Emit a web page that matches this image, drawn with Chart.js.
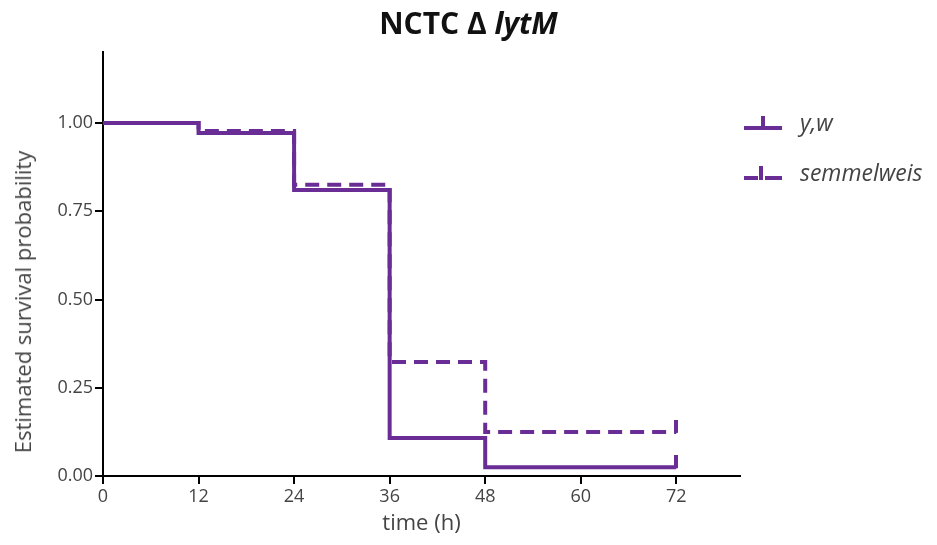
<!DOCTYPE html>
<html>
<head>
<meta charset="utf-8">
<script src="https://cdn.jsdelivr.net/npm/chart.js@4/dist/chart.umd.min.js"></script>
<style>
  html, body { margin: 0; padding: 0; background: #fff; }
  #wrap { position: relative; width: 937px; height: 545px; font-family: "Open Sans", sans-serif; }
  #titulo { position: absolute; left: 0; width: 937px; top: 2px; text-align: center;
            font-size: 30px; font-weight: bold; color: #111; }
  #ytitulo { position: absolute; left: 22px; top: 302px; transform: translate(-50%, -50%) rotate(-90deg);
             white-space: nowrap; font-size: 22px; color: #444; }
  .leg { position: absolute; left: 744px; display: flex; align-items: center;
         font-size: 23px; font-style: italic; color: #444; }
  .leg svg { margin-right: 18px; }
</style>
</head>
<body>
<div id="wrap">
  <canvas id="grafico" width="937" height="545"></canvas>
  <div id="titulo">NCTC Δ <i>lytM</i></div>
  <div id="ytitulo">Estimated survival probability</div>
  <div class="leg" style="top:106px">
    <svg width="38" height="20"><rect x="0" y="14" width="38" height="4" fill="#6a2d96"/><rect x="17" y="4" width="4" height="12" fill="#6a2d96"/></svg>y,w
  </div>
  <div class="leg" style="top:156px">
    <svg width="38" height="20"><rect x="0" y="14" width="14" height="4" fill="#6a2d96"/><rect x="21" y="14" width="17" height="4" fill="#6a2d96"/><rect x="15" y="4" width="4" height="14" fill="#6a2d96"/></svg>semmelweis
  </div>
</div>
<script>
/* ---- Datos ---- */
const horas      = [0, 12, 24, 36, 48, 72];
const serieYW    = [1.00, 0.972, 0.81, 0.108, 0.025, 0.025];
const serieSemm  = [1.00, 0.977, 0.825, 0.323, 0.125, 0.125];
const ticksX     = [0, 12, 24, 36, 48, 60, 72];
const ticksY     = [0, 0.25, 0.5, 0.75, 1.0];

const MORADO = "#6a2d96";

// marca de censura: trazo vertical solo hacia arriba
function marcaCensura() {
  const c = document.createElement("canvas");
  c.width = 4; c.height = 24;
  const g = c.getContext("2d");
  g.fillStyle = MORADO;
  g.fillRect(0, 0, 4, 13);
  return c;
}
const marca = marcaCensura();

const radios = horas.map((h, i) => i === horas.length - 1 ? 6 : 0);
const aPuntos = serie => horas.map((h, i) => ({ x: h, y: serie[i] }));

const fuenteTicks = { family: "'Open Sans', sans-serif", size: 18 };

new Chart(document.getElementById("grafico"), {
  type: "line",
  data: {
    datasets: [
      {
        label: "semmelweis",
        data: aPuntos(serieSemm),
        borderColor: MORADO,
        borderWidth: 4,
        borderDash: [14, 8],
        stepped: "before",
        pointRadius: radios,
        pointStyle: marca,
        fill: false,
      },
      {
        label: "y,w",
        data: aPuntos(serieYW),
        borderColor: MORADO,
        borderWidth: 4,
        stepped: "before",
        pointRadius: radios,
        pointStyle: marca,
        fill: false,
      },
    ],
  },
  options: {
    responsive: false,
    animation: false,
    events: [],
    layout: { padding: { top: 52.4, right: 197, bottom: 0, left: 0 } },
    plugins: { legend: { display: false }, title: { display: false }, tooltip: { enabled: false } },
    scales: {
      x: {
        type: "linear",
        min: 0, max: 80,
        afterBuildTicks: s => { s.ticks = ticksX.map(v => ({ value: v })); },
        afterFit: s => { s.height = 69; },
        grid: { drawOnChartArea: false, drawTicks: true, tickLength: 8, color: "#000", lineWidth: 2 },
        border: { display: true, color: "#000", width: 2 },
        ticks: { color: "#444", font: fuenteTicks, padding: 2, maxRotation: 0 },
        title: { display: true, text: "time (h)", color: "#444",
                 font: { family: "'Open Sans', sans-serif", size: 22 }, padding: { bottom: 8 } },
      },
      y: {
        type: "linear",
        min: 0, max: 1.2,
        afterBuildTicks: s => { s.ticks = ticksY.map(v => ({ value: v })); },
        afterFit: s => { s.width = 103; },
        grid: { drawOnChartArea: false, drawTicks: true, tickLength: 8, color: "#000", lineWidth: 2 },
        border: { display: true, color: "#000", width: 2 },
        ticks: { color: "#444", font: fuenteTicks, padding: 2, callback: v => Number(v).toFixed(2) },
      },
    },
  },
});
</script>
</body>
</html>
